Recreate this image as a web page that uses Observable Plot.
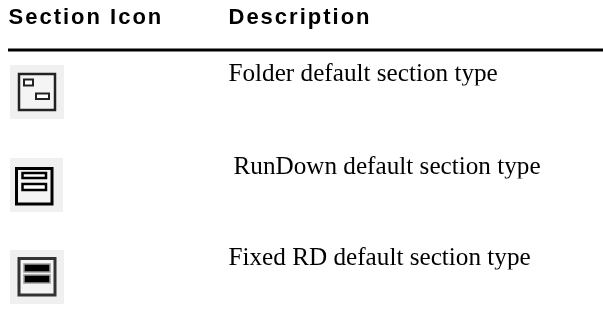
<!DOCTYPE html>
<html><head><meta charset="utf-8">
<script src="https://cdn.jsdelivr.net/npm/d3@7"></script>
<script src="https://cdn.jsdelivr.net/npm/@observablehq/plot@0.6"></script>
<style>html,body{margin:0;padding:0;background:#fff}svg{display:block}.hdr text{letter-spacing:2px}.hdr,.desc,.soft{filter:blur(0.3px)}</style>
</head><body><div id="c"></div>
<script>
const headers = ["Section Icon", "Description"];
const descriptions = ["Folder default section type", "RunDown default section type", "Fixed RD default section type"];

const headerX = [8, 228];
const descX = [228, 233, 228];
const descY = [80, 173, 264];
const tiles = [[10,65,64,119],[10,158,63,212],[10,250,64,304]];
const frames = [[19,74,55,110,2.5,"#222","soft"],[16.5,168.5,52,204,3,"#000",""],[19,258.5,55,295,3,"#333","soft"]];
const inner = [
  [24,79.5,33,85.5,"#fff","#222",2,"soft"],[36,93.5,49,99,"#fff","#222",2,"soft"],
  [22.5,173,46,178,"#fff","#000",2.5,""],[22.5,184,46,190,"#fff","#000",2.5,""],
  [24,264,50,272,"#000","#999",1.5,"soft"],[24,275,50,283,"#000","#999",1.5,"soft"]
];
const x0 = d=>d[0], y0=d=>d[1], x1=d=>d[2], y1=d=>d[3];
const chart = Plot.plot({
  width:603, height:327, margin:0,
  x:{domain:[0,603], range:[0,603], axis:null}, y:{domain:[0,327], range:[0,327], axis:null},
  marks:[
    Plot.rect(tiles,{x1:x0,y1:y0,x2:x1,y2:y1,fill:"#f0f0f0"}),
    ...frames.map(f=>Plot.rect([f],{x1:x0,y1:y0,x2:x1,y2:y1,fill:"#f4f4f4",stroke:f[5],strokeWidth:f[4],className:f[6]||undefined})),
    ...inner.map(f=>Plot.rect([f],{x1:x0,y1:y0,x2:x1,y2:y1,fill:f[4],stroke:f[5],strokeWidth:f[6],className:f[7]||undefined})),
    Plot.ruleY([49.5],{x1:8,x2:603,stroke:"#000",strokeWidth:3}),
    Plot.text(headers,{x:(d,i)=>headerX[i],y:23,text:d=>d,textAnchor:"start",lineAnchor:"bottom",fontFamily:"Liberation Sans",fontWeight:"bold",fontSize:22,fill:"#000",className:"hdr"}),
    Plot.text(descriptions,{x:(d,i)=>descX[i],y:(d,i)=>descY[i],text:d=>d,textAnchor:"start",lineAnchor:"bottom",fontFamily:"Liberation Serif",fontSize:25.2,fill:"#000",className:"desc"})
  ]
});
document.getElementById("c").append(chart);
</script></body></html>
